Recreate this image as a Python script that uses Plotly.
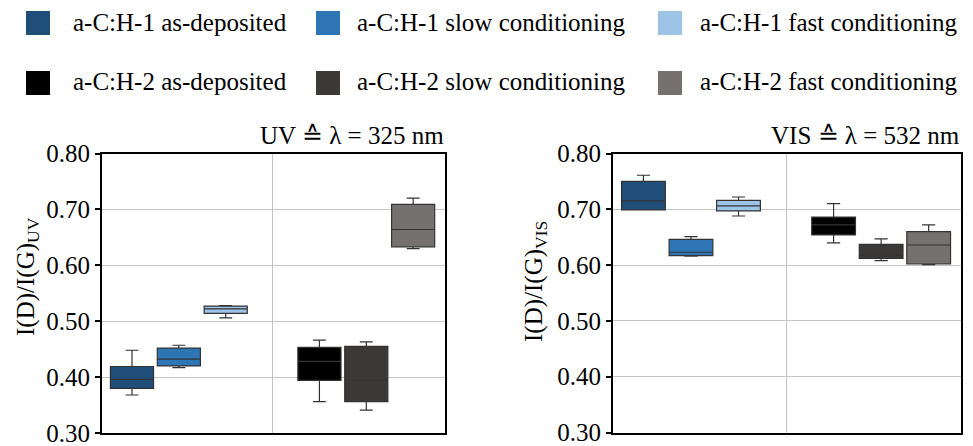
import plotly.graph_objects as go

W, H = 973, 446

materials = ["a-C:H-1", "a-C:H-2"]
conditions = ["as-deposited", "slow conditioning", "fast conditioning"]
series_material = ["a-C:H-1", "a-C:H-1", "a-C:H-1", "a-C:H-2", "a-C:H-2", "a-C:H-2"]
series_condition = conditions + conditions
series_names = [m + " " + c for m, c in zip(series_material, series_condition)]
series_colors = ["#1f4e79", "#2e75b6", "#9dc3e6", "#000000", "#3b3838", "#767171"]

# UV (325 nm) box statistics
uv_lowerfence = [0.368, 0.417, 0.506, 0.356, 0.341, 0.630]
uv_q1 = [0.380, 0.420, 0.514, 0.394, 0.356, 0.633]
uv_median = [0.396, 0.432, 0.522, 0.428, 0.394, 0.664]
uv_q3 = [0.419, 0.452, 0.527, 0.453, 0.455, 0.709]
uv_upperfence = [0.448, 0.457, 0.528, 0.466, 0.463, 0.720]

# VIS (532 nm) box statistics
vis_lowerfence = [0.699, 0.616, 0.688, 0.640, 0.608, 0.601]
vis_q1 = [0.699, 0.617, 0.697, 0.654, 0.612, 0.602]
vis_median = [0.715, 0.623, 0.706, 0.672, 0.618, 0.636]
vis_q3 = [0.750, 0.646, 0.716, 0.686, 0.637, 0.660]
vis_upperfence = [0.761, 0.651, 0.722, 0.710, 0.647, 0.672]

y_ticks = [0.30, 0.40, 0.50, 0.60, 0.70, 0.80]
panel_titles = ["UV \u2259 \u03bb = 325 nm", "VIS \u2259 \u03bb = 532 nm"]
panel_ylabels = ["I(D)/I(G)<sub>UV</sub>", "I(D)/I(G)<sub>VIS</sub>"]

FONT = "Liberation Serif, Times New Roman, serif"
FS = 25


def px_x(x):
    return x / W


def px_y(y):
    return (H - y) / H


fig = go.Figure()

panels = [
    ("x", "y", uv_lowerfence, uv_q1, uv_median, uv_q3, uv_upperfence),
    ("x2", "y2", vis_lowerfence, vis_q1, vis_median, vis_q3, vis_upperfence),
]
for xa, ya, lf, q1, med, q3, uf in panels:
    for i in range(len(series_names)):
        fig.add_trace(go.Box(
            x=[series_material[i]],
            lowerfence=[lf[i]], q1=[q1[i]], median=[med[i]], q3=[q3[i]], upperfence=[uf[i]],
            name=series_names[i],
            offsetgroup=series_condition[i],
            fillcolor=series_colors[i],
            line=dict(color="#333333", width=1.2),
            whiskerwidth=0.3,
            showlegend=False,
            hoverinfo="skip",
            xaxis=xa, yaxis=ya,
        ))

axis_common_x = dict(
    type="category", categoryorder="array", categoryarray=materials,
    range=[-0.41, 1.42], showticklabels=False, ticks="", automargin=False,
    tickson="boundaries", showgrid=True, gridcolor="#c4c4c4", gridwidth=1,
    showline=True, linecolor="black", linewidth=2, mirror=True, zeroline=False,
)
axis_common_y = dict(
    range=[0.30, 0.80], tickvals=y_ticks, tickformat=".2f", automargin=False,
    ticklabeloverflow="allow",
    ticks="outside", ticklen=5, tickcolor="black", tickwidth=1.5,
    showgrid=True, gridcolor="#c4c4c4", gridwidth=1,
    showline=True, linecolor="black", linewidth=2, mirror=True, zeroline=False,
    tickfont=dict(family=FONT, size=FS, color="black"),
)

fig.update_layout(
    width=W, height=H,
    margin=dict(l=0, r=0, t=0, b=0, autoexpand=False),
    paper_bgcolor="white", plot_bgcolor="white",
    boxmode="group", boxgap=0.25, boxgroupgap=0.08,
    showlegend=False,
    font=dict(family=FONT, size=FS, color="black"),
    xaxis=dict(domain=[px_x(102), px_x(445)], anchor="y", **axis_common_x),
    yaxis=dict(domain=[px_y(433), px_y(153.5)], anchor="x", **axis_common_y),
    xaxis2=dict(domain=[px_x(613), px_x(961)], anchor="y2", **axis_common_x),
    yaxis2=dict(domain=[px_y(432.5), px_y(153.5)], anchor="x2", **axis_common_y),
)

annotations = []
shapes = []
# panel titles (right aligned above each plot)
for title, xr in zip(panel_titles, [446, 962]):
    annotations.append(dict(text=title, x=px_x(xr), y=px_y(151), xref="paper", yref="paper",
                            xanchor="right", yanchor="bottom", showarrow=False,
                            font=dict(family=FONT, size=FS, color="black")))
# y axis labels
for lab, xc, yc in zip(panel_ylabels, [27, 535], [277, 282]):
    annotations.append(dict(text=lab, x=px_x(xc), y=px_y(yc), xref="paper", yref="paper",
                            xanchor="center", yanchor="middle", textangle=-90, showarrow=False,
                            font=dict(family=FONT, size=FS, color="black")))

# manual legend (2 rows x 3 columns)
sq_left = [26, 316, 658]
txt_left = [71, 355, 698]
row_center = [23, 83]
for i, name in enumerate(series_names):
    r, c = divmod(i, 3)
    yc = row_center[r]
    shapes.append(dict(type="rect", xref="paper", yref="paper",
                       x0=px_x(sq_left[c]), x1=px_x(sq_left[c] + 24),
                       y0=px_y(yc + 12), y1=px_y(yc - 12),
                       fillcolor=series_colors[i], line=dict(width=0)))
    annotations.append(dict(text=name, x=px_x(txt_left[c]), y=px_y(yc - 1), xref="paper", yref="paper",
                            xanchor="left", yanchor="middle", showarrow=False,
                            font=dict(family=FONT, size=FS, color="black")))

fig.update_layout(annotations=annotations, shapes=shapes)
fig.write_html("out.html")
